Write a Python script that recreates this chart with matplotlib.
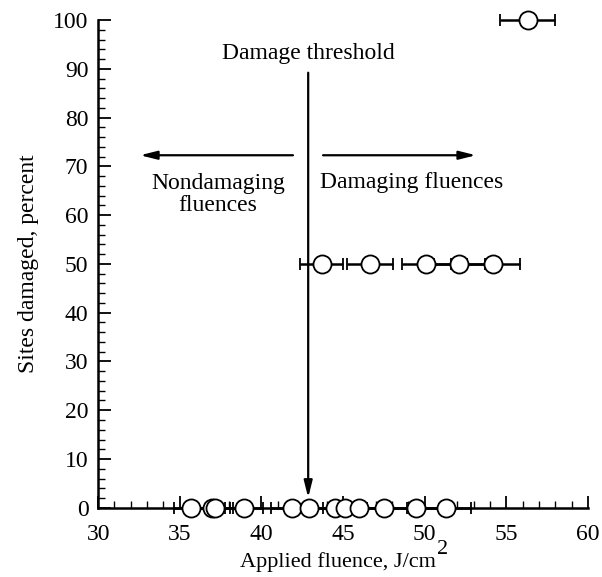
import matplotlib
matplotlib.use("Agg")
import matplotlib.pyplot as plt
import numpy as np
from matplotlib.ticker import MultipleLocator

plt.rcParams['font.family'] = ['Liberation Serif', 'DejaVu Serif']

# Data
fluence_0 = [35.7, 36.95, 37.15, 38.95, 41.85, 42.9, 44.5, 45.1, 45.95, 47.5, 49.45, 51.3]
fluence_50 = [43.7, 46.65, 50.1, 52.1, 54.2]
fluence_100 = [56.3]
rel_err = 0.03  # relative fluence uncertainty
threshold = 42.86

FS = 17

fig = plt.figure(figsize=(6.02, 5.77), dpi=100)
ax = fig.add_axes([0.163, 0.12, 0.814, 0.845])

for xs, yv in [(fluence_0, 0), (fluence_50, 50), (fluence_100, 100)]:
    xs = np.array(xs)
    ax.errorbar(xs, np.full_like(xs, yv), xerr=rel_err * xs, fmt='o',
                color='black', ecolor='black', elinewidth=1.8, capsize=4,
                capthick=1.8, markersize=13, markerfacecolor='white',
                markeredgecolor='black', markeredgewidth=1.3, clip_on=False,
                zorder=3)

ax.set_xlim(30, 60)
ax.set_ylim(0, 100)
ax.xaxis.set_major_locator(MultipleLocator(5))
ax.xaxis.set_minor_locator(MultipleLocator(1))
ax.yaxis.set_major_locator(MultipleLocator(10))
ax.yaxis.set_minor_locator(MultipleLocator(2))
ax.tick_params(which='major', direction='in', length=9, width=1.3, labelsize=FS)
ax.tick_params(which='minor', direction='in', length=5, width=1.0)
ax.tick_params(axis='x', which='major', pad=12)
ax.tick_params(axis='y', which='major', pad=7)
for s in ['top', 'right']:
    ax.spines[s].set_visible(False)
for s in ['left', 'bottom']:
    ax.spines[s].set_linewidth(1.8)

xl = ax.set_xlabel('Applied fluence, J/cm', fontsize=FS - 1, labelpad=5)
ax.set_ylabel('Sites damaged, percent', fontsize=FS, labelpad=10)

# Annotations
arrow = dict(arrowstyle='-|>,head_length=1.0,head_width=0.25', color='black', lw=1.6)
ax.text(threshold, 93.2, 'Damage threshold', ha='center', va='center', fontsize=FS)
ax.annotate('', xy=(threshold, 1.5), xytext=(threshold, 89.8), arrowprops=arrow)
ax.annotate('', xy=(32.4, 72.3), xytext=(42.1, 72.3), arrowprops=arrow)
ax.annotate('', xy=(53.3, 72.3), xytext=(43.6, 72.3), arrowprops=arrow)
ax.text(37.35, 64.2, 'Nondamaging\nfluences', ha='center', va='center',
        fontsize=FS, linespacing=1.05)
ax.text(49.2, 66.8, 'Damaging fluences', ha='center', va='center', fontsize=FS)

# Large superscript "2" after the x label, with the whole label centred
fig.canvas.draw()
r = fig.canvas.get_renderer()
W, H = fig.bbox.width, fig.bbox.height
sup = fig.text(0, 0, '2', fontsize=FS - 1, ha='left', va='bottom')
w2 = sup.get_window_extent(r).width
axw = ax.bbox.width
ax.xaxis.label.set_x(0.5 - (w2 / 2) / axw)
fig.canvas.draw()
bb = xl.get_window_extent(r)
sup.set_position(((bb.x1 + 1) / W, (bb.y0 + 13) / H))

fig.savefig('out.png', dpi=100)
